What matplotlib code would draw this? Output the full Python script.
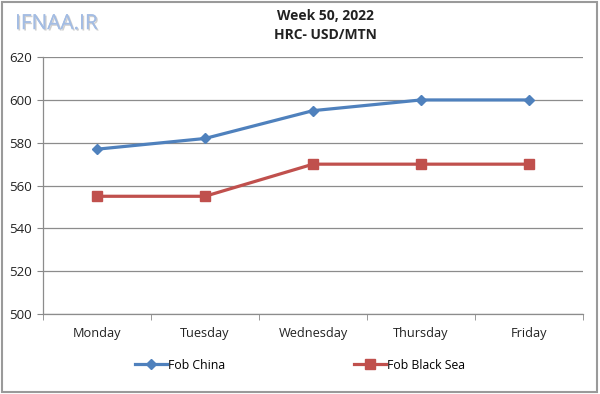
import matplotlib.pyplot as plt
import matplotlib.patheffects as pe
from matplotlib.lines import Line2D

days = ["Monday", "Tuesday", "Wednesday", "Thursday", "Friday"]
fob_china = [577, 582, 595, 600, 600]
fob_black_sea = [555, 555, 570, 570, 570]
y_ticks = [500, 520, 540, 560, 580, 600, 620]

blue = "#4F81BD"
red = "#C0504D"

plt.rcParams['font.family'] = ['Open Sans', 'DejaVu Sans']

fig = plt.figure(figsize=(6, 3.94), dpi=100)
ax = fig.add_axes([0.0717, 0.203, 0.9, 0.652])

x = range(len(days))
ax.plot(x, fob_china, color=blue, lw=2.3, marker='D', ms=5, label="Fob China")
ax.plot(x, fob_black_sea, color=red, lw=2.3, marker='s', ms=6.5, label="Fob Black Sea")

ax.set_xlim(-0.5, 4.5)
ax.set_ylim(500, 620)
ax.set_yticks(y_ticks)
ax.set_xticks(list(x))
ax.set_xticklabels(days)
ax.set_xticks([i - 0.5 for i in range(len(days) + 1)], minor=True)
ax.tick_params(axis='x', which='major', length=0, pad=9, labelsize=9.2, colors='#222222')
ax.tick_params(axis='x', which='minor', length=4, color='#888888')
ax.tick_params(axis='y', length=4, color='#888888', labelsize=9.5, labelcolor='#222222', pad=4)
ax.grid(axis='y', color='#8c8c8c', lw=0.9)
ax.set_axisbelow(True)
for side in ['top', 'right']:
    ax.spines[side].set_visible(False)
for side in ['left', 'bottom']:
    ax.spines[side].set_color('#8c8c8c')
    ax.spines[side].set_linewidth(0.9)

handles = [Line2D([], [], color=blue, lw=2.3, marker='D', ms=5),
           Line2D([], [], color=red, lw=2.3, marker='s', ms=6.5)]
fig.legend(handles, ["Fob China", "Fob Black Sea"], loc='center', bbox_to_anchor=(0.5, 0.073),
           ncol=2, frameon=False, fontsize=8.8, handlelength=2.6, handletextpad=0.1,
           columnspacing=10.5)

fig.text(0.542, 0.96, "Week 50, 2022", ha='center', va='center', fontsize=10, fontweight='bold', color='#222222')
fig.text(0.542, 0.912, "HRC- USD/MTN", ha='center', va='center', fontsize=10, fontweight='bold', color='#222222')

fig.text(0.025, 0.94, "IFNAA.IR", ha='left', va='center', fontsize=15, color='#A3BCE3',
         path_effects=[pe.withSimplePatchShadow(offset=(1, -1), shadow_rgbFace='#B0B0B0', alpha=0.6), pe.Normal()])

fig.patches.append(plt.Rectangle((0.003, 0.004), 0.992, 0.992, transform=fig.transFigure,
                                 fill=False, edgecolor='#9a9a9a', lw=1.5))

fig.savefig("out.png", dpi=100)
